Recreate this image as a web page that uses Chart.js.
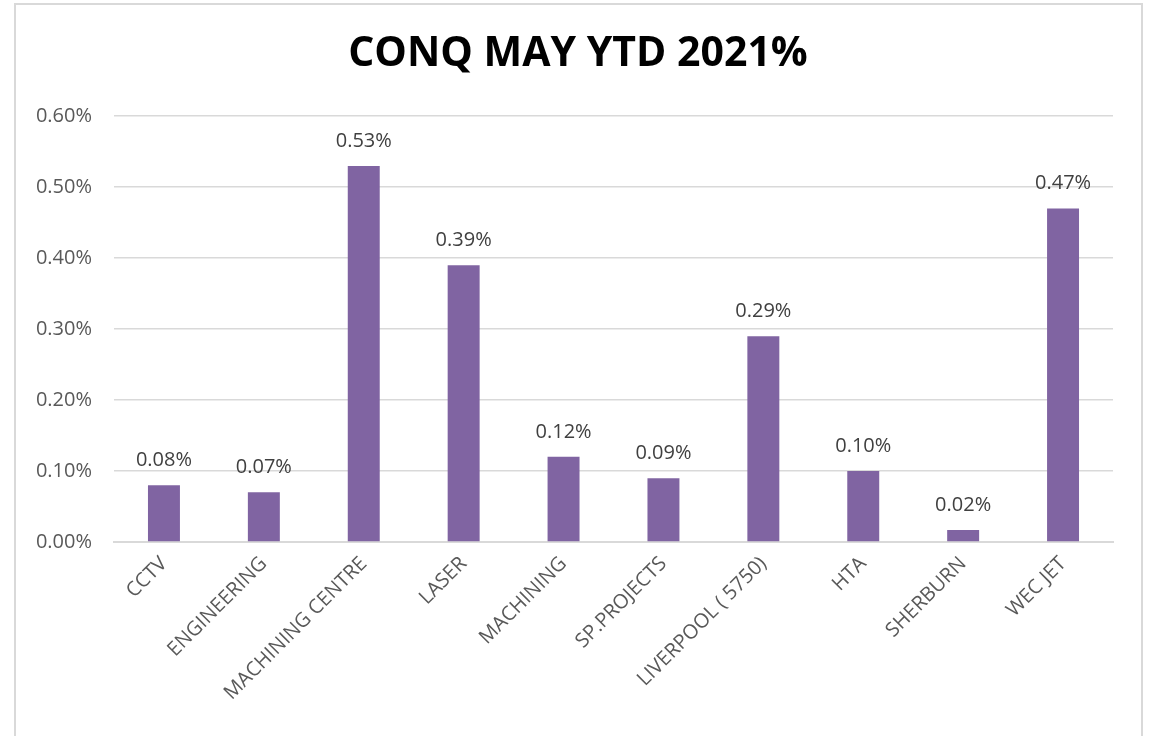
<!DOCTYPE html>
<html>
<head>
<meta charset="utf-8">
<script src="https://cdn.jsdelivr.net/npm/chart.js@4/dist/chart.umd.min.js"></script>
<style>
  body { margin: 0; background: #fff; }
  #wrap { position: relative; width: 1151px; height: 736px; overflow: hidden; }
  #frame { position: absolute; left: 14px; top: 3px; width: 1129px; height: 800px; border: 2px solid #d9d9d9; box-sizing: border-box; }
  canvas { position: absolute; left: 0; top: 0; }
</style>
</head>
<body>
<div id="wrap">
  <div id="frame"></div>
  <canvas id="bar-chart" width="1151" height="736"></canvas>
</div>
<script>
// values (in %)
var categories = ["CCTV", "ENGINEERING", "MACHINING CENTRE", "LASER", "MACHINING", "SP.PROJECTS", "LIVERPOOL ( 5750)", "HTA", "SHERBURN", "WEC JET"];
var ytdValues = [0.08, 0.07, 0.53, 0.39, 0.12, 0.09, 0.29, 0.10, 0.017, 0.47];
var yTicks = [0, 0.1, 0.2, 0.3, 0.4, 0.5, 0.6];

// draws the value above each bar
var barLabels = {
    id: 'barLabels',
    afterDatasetsDraw: function(chart) {
        var ctx = chart.ctx;
        var meta = chart.getDatasetMeta(0);
        ctx.save();
        ctx.font = '20px "Open Sans"';
        ctx.fillStyle = '#404040';
        ctx.textAlign = 'center';
        ctx.textBaseline = 'middle';
        meta.data.forEach(function(bar, i) {
            ctx.fillText(ytdValues[i].toFixed(2) + '%', bar.x, bar.y - 25);
        });
        ctx.restore();
    }
};

new Chart(document.getElementById("bar-chart"), {
    type: 'bar',
    data: {
        labels: categories,
        datasets: [
            {
                label: "YTD %",
                backgroundColor: "#8064A2",
                data: ytdValues,
                categoryPercentage: 1,
                barPercentage: 0.32
            }
        ]
    },
    options: {
        responsive: false,
        animation: false,
        events: [],
        layout: { padding: { left: 13, right: 8, top: 10, bottom: 0 } },
        plugins: {
            legend: { display: false },
            tooltip: { enabled: false },
            title: {
                display: true,
                text: 'CONQ MAY YTD 2021%',
                color: '#000',
                font: { family: 'Open Sans', size: 41, weight: 'bold', lineHeight: 1.2 },
                padding: { top: 20, bottom: 37 }
            }
        },
        scales: {
            x: {
                grid: { display: false, drawTicks: false },
                border: { display: true, color: '#d9d9d9', width: 2 },
                ticks: {
                    color: '#595959',
                    font: { family: 'Open Sans', size: 20 },
                    maxRotation: 45,
                    minRotation: 45,
                    autoSkip: false,
                    padding: 10
                },
                afterFit: function(scale) { scale.height = 194; }
            },
            y: {
                min: 0,
                max: 0.6,
                afterBuildTicks: function(scale) {
                    scale.ticks = yTicks.map(function(v) { return { value: v }; });
                },
                grid: { color: '#d9d9d9', lineWidth: 1.5, drawTicks: false },
                border: { display: false },
                ticks: {
                    color: '#595959',
                    font: { family: 'Open Sans', size: 20 },
                    padding: 22,
                    callback: function(v) { return v.toFixed(2) + '%'; }
                },
                afterFit: function(scale) { scale.width = 101; }
            },
            // empty right-hand strip so the title centres on the whole frame
            y2: {
                position: 'right',
                grid: { display: false },
                border: { display: false },
                ticks: { display: false },
                afterFit: function(scale) { scale.width = 30; }
            }
        }
    },
    plugins: [barLabels]
});
</script>
</body>
</html>
